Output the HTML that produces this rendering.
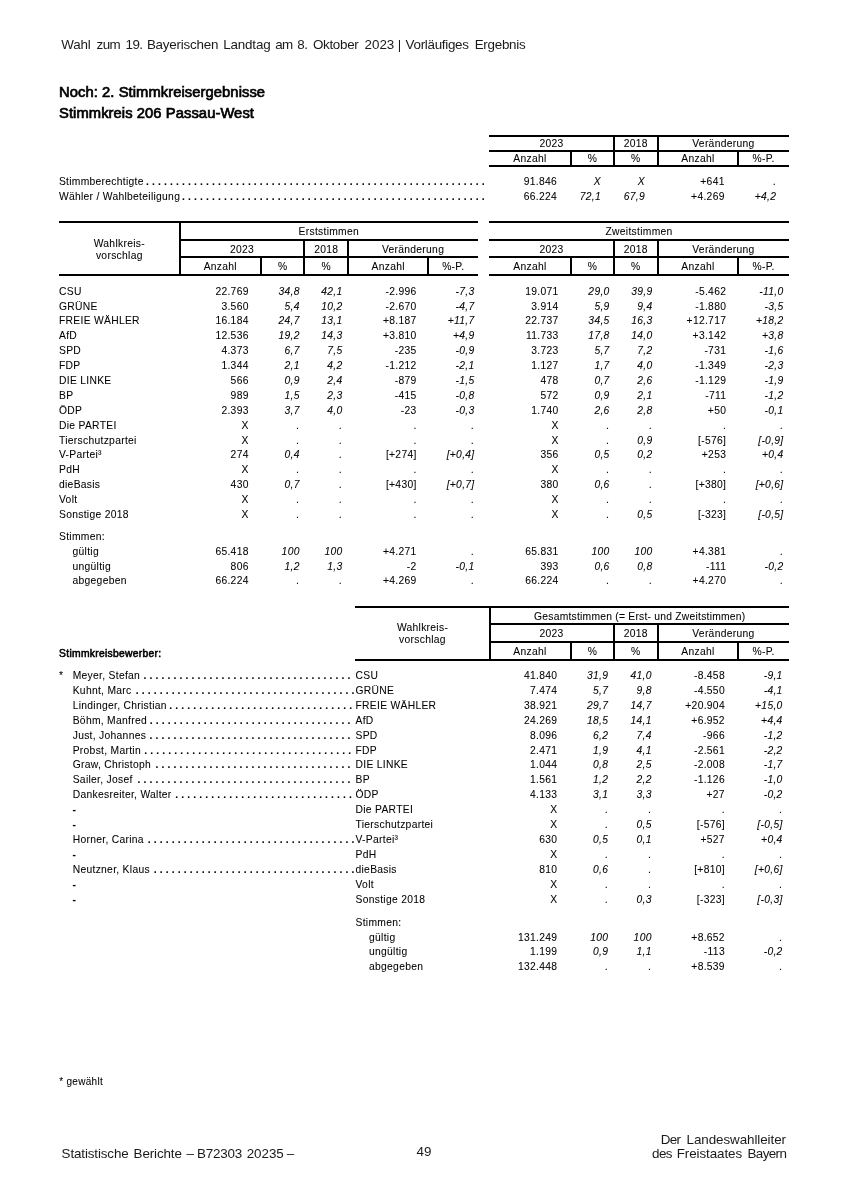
<!DOCTYPE html>
<html lang="de"><head><meta charset="utf-8"><title>Stimmkreis 206 Passau-West</title><style>
html,body{margin:0;padding:0;background:#fff}
body{width:848px;height:1200px;position:relative;overflow:hidden;font-family:"Liberation Sans",sans-serif;color:#000}
.t{position:absolute;white-space:nowrap;line-height:1;font-style:normal;font-weight:normal;letter-spacing:0.3px;-webkit-text-stroke:0.06px #000}
.hd{letter-spacing:0;-webkit-text-stroke:0}
.fb{letter-spacing:0}
.i{font-style:italic}
.b{font-weight:bold}
.fb{-webkit-text-stroke:0.7px #000}
.fb2{-webkit-text-stroke:0.55px #000}
.hd{color:#1a1a1a}
.ln{position:absolute;background:#000;display:block}
.dd{font-weight:bold;letter-spacing:0.137px;white-space:pre}
</style></head><body>
<span class="t hd" style="top:38.00px;left:61.20px;font-size:13.4px;letter-spacing:-0.133px;white-space:pre">Wahl </span>
<span class="t hd" style="top:38.00px;left:96.60px;font-size:13.4px;letter-spacing:-0.6px;white-space:pre">zum </span>
<span class="t hd" style="top:38.00px;left:125.55px;font-size:13.4px;letter-spacing:-0.6px;white-space:pre">19. </span>
<span class="t hd" style="top:38.00px;left:146.90px;font-size:13.4px;letter-spacing:-0.22px;white-space:pre">Bayerischen </span>
<span class="t hd" style="top:38.00px;left:223.30px;font-size:13.4px;letter-spacing:-0.183px;white-space:pre">Landtag </span>
<span class="t hd" style="top:38.00px;left:275.15px;font-size:13.4px;letter-spacing:-0.6px;white-space:pre">am </span>
<span class="t hd" style="top:38.00px;left:297.30px;font-size:13.4px;letter-spacing:-0.6px;white-space:pre">8. </span>
<span class="t hd" style="top:38.00px;left:312.90px;font-size:13.4px;letter-spacing:-0.283px;white-space:pre">Oktober </span>
<span class="t hd" style="top:38.00px;left:364.60px;font-size:13.4px;letter-spacing:-0.033px;white-space:pre">2023 </span>
<span class="t hd" style="top:38.00px;left:397.85px;font-size:13.4px;letter-spacing:0.0px;white-space:pre">| </span>
<span class="t hd" style="top:38.00px;left:405.60px;font-size:13.4px;letter-spacing:-0.29px;white-space:pre">Vorläufiges </span>
<span class="t hd" style="top:38.00px;left:474.70px;font-size:13.4px;letter-spacing:-0.271px;white-space:pre">Ergebnis </span>
<span class="t fb" style="top:85.00px;font-size:14.75px;letter-spacing:0.07px;left:59.00px;">Noch: 2. Stimmkreisergebnisse</span>
<span class="t fb" style="top:106.00px;font-size:14.75px;letter-spacing:0.07px;left:59.00px;">Stimmkreis 206 Passau-West</span>
<span class="t hd" style="top:1147.00px;left:61.60px;font-size:13.4px;letter-spacing:-0.127px;white-space:pre">Statistische </span>
<span class="t hd" style="top:1147.00px;left:133.60px;font-size:13.4px;letter-spacing:-0.114px;white-space:pre">Berichte </span>
<span class="t hd" style="top:1147.00px;left:186.45px;font-size:13.4px;letter-spacing:0.0px;white-space:pre">– </span>
<span class="t hd" style="top:1147.00px;left:197.00px;font-size:13.4px;letter-spacing:-0.2px;white-space:pre">B72303 </span>
<span class="t hd" style="top:1147.00px;left:246.70px;font-size:13.4px;letter-spacing:-0.05px;white-space:pre">20235 </span>
<span class="t hd" style="top:1147.00px;left:286.75px;font-size:13.4px;letter-spacing:0.0px;white-space:pre">– </span>
<span class="t hd" style="top:1145.00px;font-size:13.4px;left:273.90px;width:300px;text-align:center;">49</span>
<span class="t hd" style="top:1133.00px;left:660.70px;font-size:13.4px;letter-spacing:-0.6px;white-space:pre">Der </span>
<span class="t hd" style="top:1133.00px;left:686.50px;font-size:13.4px;letter-spacing:-0.067px;white-space:pre">Landeswahlleiter </span>
<span class="t hd" style="top:1147.00px;left:652.10px;font-size:13.4px;letter-spacing:-0.6px;white-space:pre">des </span>
<span class="t hd" style="top:1147.00px;left:676.70px;font-size:13.4px;letter-spacing:-0.08px;white-space:pre">Freistaates </span>
<span class="t hd" style="top:1147.00px;left:747.50px;font-size:13.4px;letter-spacing:-0.6px;white-space:pre">Bayern </span>
<span class="t " style="top:1077.00px;font-size:10.0px;left:59.20px;">* gewählt</span>
<i class="ln" style="left:489px;top:135px;width:300px;height:2px"></i>
<i class="ln" style="left:489px;top:150px;width:300px;height:2px"></i>
<i class="ln" style="left:489px;top:165px;width:300px;height:2px"></i>
<i class="ln" style="left:613px;top:135px;width:2px;height:32px"></i>
<i class="ln" style="left:657px;top:135px;width:2px;height:32px"></i>
<i class="ln" style="left:570px;top:150px;width:2px;height:17px"></i>
<i class="ln" style="left:737px;top:150px;width:2px;height:17px"></i>
<span class="t " style="top:139.00px;font-size:10.3px;left:401.48px;width:300px;text-align:center;">2023</span>
<span class="t " style="top:139.00px;font-size:10.3px;left:485.80px;width:300px;text-align:center;">2018</span>
<span class="t " style="top:139.00px;font-size:10.3px;left:573.40px;width:300px;text-align:center;">Veränderung</span>
<span class="t " style="top:154.00px;font-size:10.3px;left:379.98px;width:300px;text-align:center;">Anzahl</span>
<span class="t " style="top:154.00px;font-size:10.3px;left:442.40px;width:300px;text-align:center;">%</span>
<span class="t " style="top:154.00px;font-size:10.3px;left:485.80px;width:300px;text-align:center;">%</span>
<span class="t " style="top:154.00px;font-size:10.3px;left:547.90px;width:300px;text-align:center;">Anzahl</span>
<span class="t " style="top:154.00px;font-size:10.3px;left:613.60px;width:300px;text-align:center;">%-P.</span>
<span class="t " style="top:177.00px;font-size:10.3px;right:291.00px;">91.846</span>
<span class="t i" style="top:177.00px;font-size:10.3px;right:247.00px;">X</span>
<span class="t i" style="top:177.00px;font-size:10.3px;right:203.00px;">X</span>
<span class="t " style="top:177.00px;font-size:10.3px;right:123.30px;">+641</span>
<span class="t i" style="top:177.00px;font-size:10.3px;right:71.70px;">.</span>
<span class="t " style="top:192.00px;font-size:10.3px;right:291.00px;">66.224</span>
<span class="t i" style="top:192.00px;font-size:10.3px;right:247.00px;">72,1</span>
<span class="t i" style="top:192.00px;font-size:10.3px;right:203.00px;">67,9</span>
<span class="t " style="top:192.00px;font-size:10.3px;right:123.30px;">+4.269</span>
<span class="t i" style="top:192.00px;font-size:10.3px;right:71.70px;">+4,2</span>
<i class="ln" style="left:59px;top:221px;width:419px;height:2px"></i>
<i class="ln" style="left:489px;top:221px;width:300px;height:2px"></i>
<i class="ln" style="left:59px;top:274px;width:121px;height:2px"></i>
<i class="ln" style="left:179px;top:221px;width:2px;height:55px"></i>
<span class="t " style="top:239.00px;font-size:10.3px;left:-30.70px;width:300px;text-align:center;">Wahlkreis-</span>
<span class="t " style="top:251.00px;font-size:10.3px;left:-30.70px;width:300px;text-align:center;">vorschlag</span>
<i class="ln" style="left:180px;top:239px;width:298px;height:2px"></i>
<i class="ln" style="left:180px;top:256px;width:298px;height:2px"></i>
<i class="ln" style="left:180px;top:274px;width:298px;height:2px"></i>
<i class="ln" style="left:303px;top:239px;width:2px;height:37px"></i>
<i class="ln" style="left:347px;top:239px;width:2px;height:37px"></i>
<i class="ln" style="left:260px;top:256px;width:2px;height:20px"></i>
<i class="ln" style="left:427px;top:256px;width:2px;height:20px"></i>
<span class="t " style="top:245.00px;font-size:10.3px;left:91.95px;width:300px;text-align:center;">2023</span>
<span class="t " style="top:245.00px;font-size:10.3px;left:176.20px;width:300px;text-align:center;">2018</span>
<span class="t " style="top:245.00px;font-size:10.3px;left:263.05px;width:300px;text-align:center;">Veränderung</span>
<span class="t " style="top:262.00px;font-size:10.3px;left:70.30px;width:300px;text-align:center;">Anzahl</span>
<span class="t " style="top:262.00px;font-size:10.3px;left:132.75px;width:300px;text-align:center;">%</span>
<span class="t " style="top:262.00px;font-size:10.3px;left:176.20px;width:300px;text-align:center;">%</span>
<span class="t " style="top:262.00px;font-size:10.3px;left:238.20px;width:300px;text-align:center;">Anzahl</span>
<span class="t " style="top:262.00px;font-size:10.3px;left:303.25px;width:300px;text-align:center;">%-P.</span>
<span class="t " style="top:227.00px;font-size:10.3px;left:178.80px;width:300px;text-align:center;">Erststimmen</span>
<i class="ln" style="left:489px;top:239px;width:300px;height:2px"></i>
<i class="ln" style="left:489px;top:256px;width:300px;height:2px"></i>
<i class="ln" style="left:489px;top:274px;width:300px;height:2px"></i>
<i class="ln" style="left:613px;top:239px;width:2px;height:37px"></i>
<i class="ln" style="left:657px;top:239px;width:2px;height:37px"></i>
<i class="ln" style="left:570px;top:256px;width:2px;height:20px"></i>
<i class="ln" style="left:737px;top:256px;width:2px;height:20px"></i>
<span class="t " style="top:245.00px;font-size:10.3px;left:401.48px;width:300px;text-align:center;">2023</span>
<span class="t " style="top:245.00px;font-size:10.3px;left:485.80px;width:300px;text-align:center;">2018</span>
<span class="t " style="top:245.00px;font-size:10.3px;left:573.40px;width:300px;text-align:center;">Veränderung</span>
<span class="t " style="top:262.00px;font-size:10.3px;left:379.98px;width:300px;text-align:center;">Anzahl</span>
<span class="t " style="top:262.00px;font-size:10.3px;left:442.40px;width:300px;text-align:center;">%</span>
<span class="t " style="top:262.00px;font-size:10.3px;left:485.80px;width:300px;text-align:center;">%</span>
<span class="t " style="top:262.00px;font-size:10.3px;left:547.90px;width:300px;text-align:center;">Anzahl</span>
<span class="t " style="top:262.00px;font-size:10.3px;left:613.60px;width:300px;text-align:center;">%-P.</span>
<span class="t " style="top:227.00px;font-size:10.3px;left:489.08px;width:300px;text-align:center;">Zweitstimmen</span>
<span class="t " style="top:287.00px;font-size:10.3px;left:59.00px;">CSU</span>
<span class="t " style="top:287.00px;font-size:10.3px;right:599.30px;">22.769</span>
<span class="t i" style="top:287.00px;font-size:10.3px;right:548.30px;">34,8</span>
<span class="t i" style="top:287.00px;font-size:10.3px;right:505.50px;">42,1</span>
<span class="t " style="top:287.00px;font-size:10.3px;right:431.40px;">-2.996</span>
<span class="t i" style="top:287.00px;font-size:10.3px;right:373.50px;">-7,3</span>
<span class="t " style="top:287.00px;font-size:10.3px;right:289.40px;">19.071</span>
<span class="t i" style="top:287.00px;font-size:10.3px;right:238.40px;">29,0</span>
<span class="t i" style="top:287.00px;font-size:10.3px;right:195.50px;">39,9</span>
<span class="t " style="top:287.00px;font-size:10.3px;right:121.80px;">-5.462</span>
<span class="t i" style="top:287.00px;font-size:10.3px;right:64.50px;">-11,0</span>
<span class="t " style="top:302.00px;font-size:10.3px;left:59.00px;">GRÜNE</span>
<span class="t " style="top:302.00px;font-size:10.3px;right:599.30px;">3.560</span>
<span class="t i" style="top:302.00px;font-size:10.3px;right:548.30px;">5,4</span>
<span class="t i" style="top:302.00px;font-size:10.3px;right:505.50px;">10,2</span>
<span class="t " style="top:302.00px;font-size:10.3px;right:431.40px;">-2.670</span>
<span class="t i" style="top:302.00px;font-size:10.3px;right:373.50px;">-4,7</span>
<span class="t " style="top:302.00px;font-size:10.3px;right:289.40px;">3.914</span>
<span class="t i" style="top:302.00px;font-size:10.3px;right:238.40px;">5,9</span>
<span class="t i" style="top:302.00px;font-size:10.3px;right:195.50px;">9,4</span>
<span class="t " style="top:302.00px;font-size:10.3px;right:121.80px;">-1.880</span>
<span class="t i" style="top:302.00px;font-size:10.3px;right:64.50px;">-3,5</span>
<span class="t " style="top:316.00px;font-size:10.3px;left:59.00px;">FREIE WÄHLER</span>
<span class="t " style="top:316.00px;font-size:10.3px;right:599.30px;">16.184</span>
<span class="t i" style="top:316.00px;font-size:10.3px;right:548.30px;">24,7</span>
<span class="t i" style="top:316.00px;font-size:10.3px;right:505.50px;">13,1</span>
<span class="t " style="top:316.00px;font-size:10.3px;right:431.40px;">+8.187</span>
<span class="t i" style="top:316.00px;font-size:10.3px;right:373.50px;">+11,7</span>
<span class="t " style="top:316.00px;font-size:10.3px;right:289.40px;">22.737</span>
<span class="t i" style="top:316.00px;font-size:10.3px;right:238.40px;">34,5</span>
<span class="t i" style="top:316.00px;font-size:10.3px;right:195.50px;">16,3</span>
<span class="t " style="top:316.00px;font-size:10.3px;right:121.80px;">+12.717</span>
<span class="t i" style="top:316.00px;font-size:10.3px;right:64.50px;">+18,2</span>
<span class="t " style="top:331.00px;font-size:10.3px;left:59.00px;">AfD</span>
<span class="t " style="top:331.00px;font-size:10.3px;right:599.30px;">12.536</span>
<span class="t i" style="top:331.00px;font-size:10.3px;right:548.30px;">19,2</span>
<span class="t i" style="top:331.00px;font-size:10.3px;right:505.50px;">14,3</span>
<span class="t " style="top:331.00px;font-size:10.3px;right:431.40px;">+3.810</span>
<span class="t i" style="top:331.00px;font-size:10.3px;right:373.50px;">+4,9</span>
<span class="t " style="top:331.00px;font-size:10.3px;right:289.40px;">11.733</span>
<span class="t i" style="top:331.00px;font-size:10.3px;right:238.40px;">17,8</span>
<span class="t i" style="top:331.00px;font-size:10.3px;right:195.50px;">14,0</span>
<span class="t " style="top:331.00px;font-size:10.3px;right:121.80px;">+3.142</span>
<span class="t i" style="top:331.00px;font-size:10.3px;right:64.50px;">+3,8</span>
<span class="t " style="top:346.00px;font-size:10.3px;left:59.00px;">SPD</span>
<span class="t " style="top:346.00px;font-size:10.3px;right:599.30px;">4.373</span>
<span class="t i" style="top:346.00px;font-size:10.3px;right:548.30px;">6,7</span>
<span class="t i" style="top:346.00px;font-size:10.3px;right:505.50px;">7,5</span>
<span class="t " style="top:346.00px;font-size:10.3px;right:431.40px;">-235</span>
<span class="t i" style="top:346.00px;font-size:10.3px;right:373.50px;">-0,9</span>
<span class="t " style="top:346.00px;font-size:10.3px;right:289.40px;">3.723</span>
<span class="t i" style="top:346.00px;font-size:10.3px;right:238.40px;">5,7</span>
<span class="t i" style="top:346.00px;font-size:10.3px;right:195.50px;">7,2</span>
<span class="t " style="top:346.00px;font-size:10.3px;right:121.80px;">-731</span>
<span class="t i" style="top:346.00px;font-size:10.3px;right:64.50px;">-1,6</span>
<span class="t " style="top:361.00px;font-size:10.3px;left:59.00px;">FDP</span>
<span class="t " style="top:361.00px;font-size:10.3px;right:599.30px;">1.344</span>
<span class="t i" style="top:361.00px;font-size:10.3px;right:548.30px;">2,1</span>
<span class="t i" style="top:361.00px;font-size:10.3px;right:505.50px;">4,2</span>
<span class="t " style="top:361.00px;font-size:10.3px;right:431.40px;">-1.212</span>
<span class="t i" style="top:361.00px;font-size:10.3px;right:373.50px;">-2,1</span>
<span class="t " style="top:361.00px;font-size:10.3px;right:289.40px;">1.127</span>
<span class="t i" style="top:361.00px;font-size:10.3px;right:238.40px;">1,7</span>
<span class="t i" style="top:361.00px;font-size:10.3px;right:195.50px;">4,0</span>
<span class="t " style="top:361.00px;font-size:10.3px;right:121.80px;">-1.349</span>
<span class="t i" style="top:361.00px;font-size:10.3px;right:64.50px;">-2,3</span>
<span class="t " style="top:376.00px;font-size:10.3px;left:59.00px;">DIE LINKE</span>
<span class="t " style="top:376.00px;font-size:10.3px;right:599.30px;">566</span>
<span class="t i" style="top:376.00px;font-size:10.3px;right:548.30px;">0,9</span>
<span class="t i" style="top:376.00px;font-size:10.3px;right:505.50px;">2,4</span>
<span class="t " style="top:376.00px;font-size:10.3px;right:431.40px;">-879</span>
<span class="t i" style="top:376.00px;font-size:10.3px;right:373.50px;">-1,5</span>
<span class="t " style="top:376.00px;font-size:10.3px;right:289.40px;">478</span>
<span class="t i" style="top:376.00px;font-size:10.3px;right:238.40px;">0,7</span>
<span class="t i" style="top:376.00px;font-size:10.3px;right:195.50px;">2,6</span>
<span class="t " style="top:376.00px;font-size:10.3px;right:121.80px;">-1.129</span>
<span class="t i" style="top:376.00px;font-size:10.3px;right:64.50px;">-1,9</span>
<span class="t " style="top:391.00px;font-size:10.3px;left:59.00px;">BP</span>
<span class="t " style="top:391.00px;font-size:10.3px;right:599.30px;">989</span>
<span class="t i" style="top:391.00px;font-size:10.3px;right:548.30px;">1,5</span>
<span class="t i" style="top:391.00px;font-size:10.3px;right:505.50px;">2,3</span>
<span class="t " style="top:391.00px;font-size:10.3px;right:431.40px;">-415</span>
<span class="t i" style="top:391.00px;font-size:10.3px;right:373.50px;">-0,8</span>
<span class="t " style="top:391.00px;font-size:10.3px;right:289.40px;">572</span>
<span class="t i" style="top:391.00px;font-size:10.3px;right:238.40px;">0,9</span>
<span class="t i" style="top:391.00px;font-size:10.3px;right:195.50px;">2,1</span>
<span class="t " style="top:391.00px;font-size:10.3px;right:121.80px;">-711</span>
<span class="t i" style="top:391.00px;font-size:10.3px;right:64.50px;">-1,2</span>
<span class="t " style="top:406.00px;font-size:10.3px;left:59.00px;">ÖDP</span>
<span class="t " style="top:406.00px;font-size:10.3px;right:599.30px;">2.393</span>
<span class="t i" style="top:406.00px;font-size:10.3px;right:548.30px;">3,7</span>
<span class="t i" style="top:406.00px;font-size:10.3px;right:505.50px;">4,0</span>
<span class="t " style="top:406.00px;font-size:10.3px;right:431.40px;">-23</span>
<span class="t i" style="top:406.00px;font-size:10.3px;right:373.50px;">-0,3</span>
<span class="t " style="top:406.00px;font-size:10.3px;right:289.40px;">1.740</span>
<span class="t i" style="top:406.00px;font-size:10.3px;right:238.40px;">2,6</span>
<span class="t i" style="top:406.00px;font-size:10.3px;right:195.50px;">2,8</span>
<span class="t " style="top:406.00px;font-size:10.3px;right:121.80px;">+50</span>
<span class="t i" style="top:406.00px;font-size:10.3px;right:64.50px;">-0,1</span>
<span class="t " style="top:421.00px;font-size:10.3px;left:59.00px;">Die PARTEI</span>
<span class="t " style="top:421.00px;font-size:10.3px;right:599.30px;">X</span>
<span class="t i" style="top:421.00px;font-size:10.3px;right:548.30px;">.</span>
<span class="t i" style="top:421.00px;font-size:10.3px;right:505.50px;">.</span>
<span class="t " style="top:421.00px;font-size:10.3px;right:431.40px;">.</span>
<span class="t i" style="top:421.00px;font-size:10.3px;right:373.50px;">.</span>
<span class="t " style="top:421.00px;font-size:10.3px;right:289.40px;">X</span>
<span class="t i" style="top:421.00px;font-size:10.3px;right:238.40px;">.</span>
<span class="t i" style="top:421.00px;font-size:10.3px;right:195.50px;">.</span>
<span class="t " style="top:421.00px;font-size:10.3px;right:121.80px;">.</span>
<span class="t i" style="top:421.00px;font-size:10.3px;right:64.50px;">.</span>
<span class="t " style="top:436.00px;font-size:10.3px;left:59.00px;">Tierschutzpartei</span>
<span class="t " style="top:436.00px;font-size:10.3px;right:599.30px;">X</span>
<span class="t i" style="top:436.00px;font-size:10.3px;right:548.30px;">.</span>
<span class="t i" style="top:436.00px;font-size:10.3px;right:505.50px;">.</span>
<span class="t " style="top:436.00px;font-size:10.3px;right:431.40px;">.</span>
<span class="t i" style="top:436.00px;font-size:10.3px;right:373.50px;">.</span>
<span class="t " style="top:436.00px;font-size:10.3px;right:289.40px;">X</span>
<span class="t i" style="top:436.00px;font-size:10.3px;right:238.40px;">.</span>
<span class="t i" style="top:436.00px;font-size:10.3px;right:195.50px;">0,9</span>
<span class="t " style="top:436.00px;font-size:10.3px;right:121.80px;">[-576]</span>
<span class="t i" style="top:436.00px;font-size:10.3px;right:64.50px;">[-0,9]</span>
<span class="t " style="top:450.00px;font-size:10.3px;left:59.00px;">V-Partei³</span>
<span class="t " style="top:450.00px;font-size:10.3px;right:599.30px;">274</span>
<span class="t i" style="top:450.00px;font-size:10.3px;right:548.30px;">0,4</span>
<span class="t i" style="top:450.00px;font-size:10.3px;right:505.50px;">.</span>
<span class="t " style="top:450.00px;font-size:10.3px;right:431.40px;">[+274]</span>
<span class="t i" style="top:450.00px;font-size:10.3px;right:373.50px;">[+0,4]</span>
<span class="t " style="top:450.00px;font-size:10.3px;right:289.40px;">356</span>
<span class="t i" style="top:450.00px;font-size:10.3px;right:238.40px;">0,5</span>
<span class="t i" style="top:450.00px;font-size:10.3px;right:195.50px;">0,2</span>
<span class="t " style="top:450.00px;font-size:10.3px;right:121.80px;">+253</span>
<span class="t i" style="top:450.00px;font-size:10.3px;right:64.50px;">+0,4</span>
<span class="t " style="top:465.00px;font-size:10.3px;left:59.00px;">PdH</span>
<span class="t " style="top:465.00px;font-size:10.3px;right:599.30px;">X</span>
<span class="t i" style="top:465.00px;font-size:10.3px;right:548.30px;">.</span>
<span class="t i" style="top:465.00px;font-size:10.3px;right:505.50px;">.</span>
<span class="t " style="top:465.00px;font-size:10.3px;right:431.40px;">.</span>
<span class="t i" style="top:465.00px;font-size:10.3px;right:373.50px;">.</span>
<span class="t " style="top:465.00px;font-size:10.3px;right:289.40px;">X</span>
<span class="t i" style="top:465.00px;font-size:10.3px;right:238.40px;">.</span>
<span class="t i" style="top:465.00px;font-size:10.3px;right:195.50px;">.</span>
<span class="t " style="top:465.00px;font-size:10.3px;right:121.80px;">.</span>
<span class="t i" style="top:465.00px;font-size:10.3px;right:64.50px;">.</span>
<span class="t " style="top:480.00px;font-size:10.3px;left:59.00px;">dieBasis</span>
<span class="t " style="top:480.00px;font-size:10.3px;right:599.30px;">430</span>
<span class="t i" style="top:480.00px;font-size:10.3px;right:548.30px;">0,7</span>
<span class="t i" style="top:480.00px;font-size:10.3px;right:505.50px;">.</span>
<span class="t " style="top:480.00px;font-size:10.3px;right:431.40px;">[+430]</span>
<span class="t i" style="top:480.00px;font-size:10.3px;right:373.50px;">[+0,7]</span>
<span class="t " style="top:480.00px;font-size:10.3px;right:289.40px;">380</span>
<span class="t i" style="top:480.00px;font-size:10.3px;right:238.40px;">0,6</span>
<span class="t i" style="top:480.00px;font-size:10.3px;right:195.50px;">.</span>
<span class="t " style="top:480.00px;font-size:10.3px;right:121.80px;">[+380]</span>
<span class="t i" style="top:480.00px;font-size:10.3px;right:64.50px;">[+0,6]</span>
<span class="t " style="top:495.00px;font-size:10.3px;left:59.00px;">Volt</span>
<span class="t " style="top:495.00px;font-size:10.3px;right:599.30px;">X</span>
<span class="t i" style="top:495.00px;font-size:10.3px;right:548.30px;">.</span>
<span class="t i" style="top:495.00px;font-size:10.3px;right:505.50px;">.</span>
<span class="t " style="top:495.00px;font-size:10.3px;right:431.40px;">.</span>
<span class="t i" style="top:495.00px;font-size:10.3px;right:373.50px;">.</span>
<span class="t " style="top:495.00px;font-size:10.3px;right:289.40px;">X</span>
<span class="t i" style="top:495.00px;font-size:10.3px;right:238.40px;">.</span>
<span class="t i" style="top:495.00px;font-size:10.3px;right:195.50px;">.</span>
<span class="t " style="top:495.00px;font-size:10.3px;right:121.80px;">.</span>
<span class="t i" style="top:495.00px;font-size:10.3px;right:64.50px;">.</span>
<span class="t " style="top:510.00px;font-size:10.3px;left:59.00px;">Sonstige 2018</span>
<span class="t " style="top:510.00px;font-size:10.3px;right:599.30px;">X</span>
<span class="t i" style="top:510.00px;font-size:10.3px;right:548.30px;">.</span>
<span class="t i" style="top:510.00px;font-size:10.3px;right:505.50px;">.</span>
<span class="t " style="top:510.00px;font-size:10.3px;right:431.40px;">.</span>
<span class="t i" style="top:510.00px;font-size:10.3px;right:373.50px;">.</span>
<span class="t " style="top:510.00px;font-size:10.3px;right:289.40px;">X</span>
<span class="t i" style="top:510.00px;font-size:10.3px;right:238.40px;">.</span>
<span class="t i" style="top:510.00px;font-size:10.3px;right:195.50px;">0,5</span>
<span class="t " style="top:510.00px;font-size:10.3px;right:121.80px;">[-323]</span>
<span class="t i" style="top:510.00px;font-size:10.3px;right:64.50px;">[-0,5]</span>
<span class="t " style="top:532.00px;font-size:10.3px;left:59.00px;">Stimmen:</span>
<span class="t " style="top:547.00px;font-size:10.3px;left:72.50px;">gültig</span>
<span class="t " style="top:547.00px;font-size:10.3px;right:599.30px;">65.418</span>
<span class="t i" style="top:547.00px;font-size:10.3px;right:548.30px;">100</span>
<span class="t i" style="top:547.00px;font-size:10.3px;right:505.50px;">100</span>
<span class="t " style="top:547.00px;font-size:10.3px;right:431.40px;">+4.271</span>
<span class="t i" style="top:547.00px;font-size:10.3px;right:373.50px;">.</span>
<span class="t " style="top:547.00px;font-size:10.3px;right:289.40px;">65.831</span>
<span class="t i" style="top:547.00px;font-size:10.3px;right:238.40px;">100</span>
<span class="t i" style="top:547.00px;font-size:10.3px;right:195.50px;">100</span>
<span class="t " style="top:547.00px;font-size:10.3px;right:121.80px;">+4.381</span>
<span class="t i" style="top:547.00px;font-size:10.3px;right:64.50px;">.</span>
<span class="t " style="top:562.00px;font-size:10.3px;left:72.50px;">ungültig</span>
<span class="t " style="top:562.00px;font-size:10.3px;right:599.30px;">806</span>
<span class="t i" style="top:562.00px;font-size:10.3px;right:548.30px;">1,2</span>
<span class="t i" style="top:562.00px;font-size:10.3px;right:505.50px;">1,3</span>
<span class="t " style="top:562.00px;font-size:10.3px;right:431.40px;">-2</span>
<span class="t i" style="top:562.00px;font-size:10.3px;right:373.50px;">-0,1</span>
<span class="t " style="top:562.00px;font-size:10.3px;right:289.40px;">393</span>
<span class="t i" style="top:562.00px;font-size:10.3px;right:238.40px;">0,6</span>
<span class="t i" style="top:562.00px;font-size:10.3px;right:195.50px;">0,8</span>
<span class="t " style="top:562.00px;font-size:10.3px;right:121.80px;">-111</span>
<span class="t i" style="top:562.00px;font-size:10.3px;right:64.50px;">-0,2</span>
<span class="t " style="top:576.00px;font-size:10.3px;left:72.50px;">abgegeben</span>
<span class="t " style="top:576.00px;font-size:10.3px;right:599.30px;">66.224</span>
<span class="t i" style="top:576.00px;font-size:10.3px;right:548.30px;">.</span>
<span class="t i" style="top:576.00px;font-size:10.3px;right:505.50px;">.</span>
<span class="t " style="top:576.00px;font-size:10.3px;right:431.40px;">+4.269</span>
<span class="t i" style="top:576.00px;font-size:10.3px;right:373.50px;">.</span>
<span class="t " style="top:576.00px;font-size:10.3px;right:289.40px;">66.224</span>
<span class="t i" style="top:576.00px;font-size:10.3px;right:238.40px;">.</span>
<span class="t i" style="top:576.00px;font-size:10.3px;right:195.50px;">.</span>
<span class="t " style="top:576.00px;font-size:10.3px;right:121.80px;">+4.270</span>
<span class="t i" style="top:576.00px;font-size:10.3px;right:64.50px;">.</span>
<i class="ln" style="left:355px;top:606px;width:434px;height:2px"></i>
<i class="ln" style="left:355px;top:659px;width:135px;height:2px"></i>
<i class="ln" style="left:489px;top:606px;width:2px;height:55px"></i>
<span class="t " style="top:623.00px;font-size:10.3px;left:272.50px;width:300px;text-align:center;">Wahlkreis-</span>
<span class="t " style="top:635.00px;font-size:10.3px;left:272.50px;width:300px;text-align:center;">vorschlag</span>
<i class="ln" style="left:489px;top:623px;width:300px;height:2px"></i>
<i class="ln" style="left:489px;top:641px;width:300px;height:2px"></i>
<i class="ln" style="left:489px;top:659px;width:300px;height:2px"></i>
<i class="ln" style="left:613px;top:623px;width:2px;height:38px"></i>
<i class="ln" style="left:657px;top:623px;width:2px;height:38px"></i>
<i class="ln" style="left:570px;top:641px;width:2px;height:20px"></i>
<i class="ln" style="left:737px;top:641px;width:2px;height:20px"></i>
<span class="t " style="top:629.00px;font-size:10.3px;left:401.48px;width:300px;text-align:center;">2023</span>
<span class="t " style="top:629.00px;font-size:10.3px;left:485.80px;width:300px;text-align:center;">2018</span>
<span class="t " style="top:629.00px;font-size:10.3px;left:573.40px;width:300px;text-align:center;">Veränderung</span>
<span class="t " style="top:647.00px;font-size:10.3px;left:379.98px;width:300px;text-align:center;">Anzahl</span>
<span class="t " style="top:647.00px;font-size:10.3px;left:442.40px;width:300px;text-align:center;">%</span>
<span class="t " style="top:647.00px;font-size:10.3px;left:485.80px;width:300px;text-align:center;">%</span>
<span class="t " style="top:647.00px;font-size:10.3px;left:547.90px;width:300px;text-align:center;">Anzahl</span>
<span class="t " style="top:647.00px;font-size:10.3px;left:613.60px;width:300px;text-align:center;">%-P.</span>
<span class="t " style="top:612.00px;font-size:10.3px;letter-spacing:0.24px;left:489.78px;width:300px;text-align:center;">Gesamtstimmen (= Erst- und Zweitstimmen)</span>
<span class="t fb2" style="top:649.00px;font-size:10.3px;left:59.10px;">Stimmkreisbewerber:</span>
<span class="t " style="top:671.00px;font-size:10.3px;left:355.50px;">CSU</span>
<span class="t " style="top:671.00px;font-size:10.3px;right:290.70px;">41.840</span>
<span class="t i" style="top:671.00px;font-size:10.3px;right:239.70px;">31,9</span>
<span class="t i" style="top:671.00px;font-size:10.3px;right:196.30px;">41,0</span>
<span class="t " style="top:671.00px;font-size:10.3px;right:123.10px;">-8.458</span>
<span class="t i" style="top:671.00px;font-size:10.3px;right:65.40px;">-9,1</span>
<span class="t " style="top:686.00px;font-size:10.3px;left:355.50px;">GRÜNE</span>
<span class="t " style="top:686.00px;font-size:10.3px;right:290.70px;">7.474</span>
<span class="t i" style="top:686.00px;font-size:10.3px;right:239.70px;">5,7</span>
<span class="t i" style="top:686.00px;font-size:10.3px;right:196.30px;">9,8</span>
<span class="t " style="top:686.00px;font-size:10.3px;right:123.10px;">-4.550</span>
<span class="t i" style="top:686.00px;font-size:10.3px;right:65.40px;">-4,1</span>
<span class="t " style="top:701.00px;font-size:10.3px;left:355.50px;">FREIE WÄHLER</span>
<span class="t " style="top:701.00px;font-size:10.3px;right:290.70px;">38.921</span>
<span class="t i" style="top:701.00px;font-size:10.3px;right:239.70px;">29,7</span>
<span class="t i" style="top:701.00px;font-size:10.3px;right:196.30px;">14,7</span>
<span class="t " style="top:701.00px;font-size:10.3px;right:123.10px;">+20.904</span>
<span class="t i" style="top:701.00px;font-size:10.3px;right:65.40px;">+15,0</span>
<span class="t " style="top:716.00px;font-size:10.3px;left:355.50px;">AfD</span>
<span class="t " style="top:716.00px;font-size:10.3px;right:290.70px;">24.269</span>
<span class="t i" style="top:716.00px;font-size:10.3px;right:239.70px;">18,5</span>
<span class="t i" style="top:716.00px;font-size:10.3px;right:196.30px;">14,1</span>
<span class="t " style="top:716.00px;font-size:10.3px;right:123.10px;">+6.952</span>
<span class="t i" style="top:716.00px;font-size:10.3px;right:65.40px;">+4,4</span>
<span class="t " style="top:731.00px;font-size:10.3px;left:355.50px;">SPD</span>
<span class="t " style="top:731.00px;font-size:10.3px;right:290.70px;">8.096</span>
<span class="t i" style="top:731.00px;font-size:10.3px;right:239.70px;">6,2</span>
<span class="t i" style="top:731.00px;font-size:10.3px;right:196.30px;">7,4</span>
<span class="t " style="top:731.00px;font-size:10.3px;right:123.10px;">-966</span>
<span class="t i" style="top:731.00px;font-size:10.3px;right:65.40px;">-1,2</span>
<span class="t " style="top:746.00px;font-size:10.3px;left:355.50px;">FDP</span>
<span class="t " style="top:746.00px;font-size:10.3px;right:290.70px;">2.471</span>
<span class="t i" style="top:746.00px;font-size:10.3px;right:239.70px;">1,9</span>
<span class="t i" style="top:746.00px;font-size:10.3px;right:196.30px;">4,1</span>
<span class="t " style="top:746.00px;font-size:10.3px;right:123.10px;">-2.561</span>
<span class="t i" style="top:746.00px;font-size:10.3px;right:65.40px;">-2,2</span>
<span class="t " style="top:760.00px;font-size:10.3px;left:355.50px;">DIE LINKE</span>
<span class="t " style="top:760.00px;font-size:10.3px;right:290.70px;">1.044</span>
<span class="t i" style="top:760.00px;font-size:10.3px;right:239.70px;">0,8</span>
<span class="t i" style="top:760.00px;font-size:10.3px;right:196.30px;">2,5</span>
<span class="t " style="top:760.00px;font-size:10.3px;right:123.10px;">-2.008</span>
<span class="t i" style="top:760.00px;font-size:10.3px;right:65.40px;">-1,7</span>
<span class="t " style="top:775.00px;font-size:10.3px;left:355.50px;">BP</span>
<span class="t " style="top:775.00px;font-size:10.3px;right:290.70px;">1.561</span>
<span class="t i" style="top:775.00px;font-size:10.3px;right:239.70px;">1,2</span>
<span class="t i" style="top:775.00px;font-size:10.3px;right:196.30px;">2,2</span>
<span class="t " style="top:775.00px;font-size:10.3px;right:123.10px;">-1.126</span>
<span class="t i" style="top:775.00px;font-size:10.3px;right:65.40px;">-1,0</span>
<span class="t " style="top:790.00px;font-size:10.3px;left:355.50px;">ÖDP</span>
<span class="t " style="top:790.00px;font-size:10.3px;right:290.70px;">4.133</span>
<span class="t i" style="top:790.00px;font-size:10.3px;right:239.70px;">3,1</span>
<span class="t i" style="top:790.00px;font-size:10.3px;right:196.30px;">3,3</span>
<span class="t " style="top:790.00px;font-size:10.3px;right:123.10px;">+27</span>
<span class="t i" style="top:790.00px;font-size:10.3px;right:65.40px;">-0,2</span>
<span class="t b" style="top:805.00px;font-size:10.3px;left:72.60px;">-</span>
<span class="t " style="top:805.00px;font-size:10.3px;left:355.50px;">Die PARTEI</span>
<span class="t " style="top:805.00px;font-size:10.3px;right:290.70px;">X</span>
<span class="t i" style="top:805.00px;font-size:10.3px;right:239.70px;">.</span>
<span class="t i" style="top:805.00px;font-size:10.3px;right:196.30px;">.</span>
<span class="t " style="top:805.00px;font-size:10.3px;right:123.10px;">.</span>
<span class="t i" style="top:805.00px;font-size:10.3px;right:65.40px;">.</span>
<span class="t b" style="top:820.00px;font-size:10.3px;left:72.60px;">-</span>
<span class="t " style="top:820.00px;font-size:10.3px;left:355.50px;">Tierschutzpartei</span>
<span class="t " style="top:820.00px;font-size:10.3px;right:290.70px;">X</span>
<span class="t i" style="top:820.00px;font-size:10.3px;right:239.70px;">.</span>
<span class="t i" style="top:820.00px;font-size:10.3px;right:196.30px;">0,5</span>
<span class="t " style="top:820.00px;font-size:10.3px;right:123.10px;">[-576]</span>
<span class="t i" style="top:820.00px;font-size:10.3px;right:65.40px;">[-0,5]</span>
<span class="t " style="top:835.00px;font-size:10.3px;left:355.50px;">V-Partei³</span>
<span class="t " style="top:835.00px;font-size:10.3px;right:290.70px;">630</span>
<span class="t i" style="top:835.00px;font-size:10.3px;right:239.70px;">0,5</span>
<span class="t i" style="top:835.00px;font-size:10.3px;right:196.30px;">0,1</span>
<span class="t " style="top:835.00px;font-size:10.3px;right:123.10px;">+527</span>
<span class="t i" style="top:835.00px;font-size:10.3px;right:65.40px;">+0,4</span>
<span class="t b" style="top:850.00px;font-size:10.3px;left:72.60px;">-</span>
<span class="t " style="top:850.00px;font-size:10.3px;left:355.50px;">PdH</span>
<span class="t " style="top:850.00px;font-size:10.3px;right:290.70px;">X</span>
<span class="t i" style="top:850.00px;font-size:10.3px;right:239.70px;">.</span>
<span class="t i" style="top:850.00px;font-size:10.3px;right:196.30px;">.</span>
<span class="t " style="top:850.00px;font-size:10.3px;right:123.10px;">.</span>
<span class="t i" style="top:850.00px;font-size:10.3px;right:65.40px;">.</span>
<span class="t " style="top:865.00px;font-size:10.3px;left:355.50px;">dieBasis</span>
<span class="t " style="top:865.00px;font-size:10.3px;right:290.70px;">810</span>
<span class="t i" style="top:865.00px;font-size:10.3px;right:239.70px;">0,6</span>
<span class="t i" style="top:865.00px;font-size:10.3px;right:196.30px;">.</span>
<span class="t " style="top:865.00px;font-size:10.3px;right:123.10px;">[+810]</span>
<span class="t i" style="top:865.00px;font-size:10.3px;right:65.40px;">[+0,6]</span>
<span class="t b" style="top:880.00px;font-size:10.3px;left:72.60px;">-</span>
<span class="t " style="top:880.00px;font-size:10.3px;left:355.50px;">Volt</span>
<span class="t " style="top:880.00px;font-size:10.3px;right:290.70px;">X</span>
<span class="t i" style="top:880.00px;font-size:10.3px;right:239.70px;">.</span>
<span class="t i" style="top:880.00px;font-size:10.3px;right:196.30px;">.</span>
<span class="t " style="top:880.00px;font-size:10.3px;right:123.10px;">.</span>
<span class="t i" style="top:880.00px;font-size:10.3px;right:65.40px;">.</span>
<span class="t b" style="top:895.00px;font-size:10.3px;left:72.60px;">-</span>
<span class="t " style="top:895.00px;font-size:10.3px;left:355.50px;">Sonstige 2018</span>
<span class="t " style="top:895.00px;font-size:10.3px;right:290.70px;">X</span>
<span class="t i" style="top:895.00px;font-size:10.3px;right:239.70px;">.</span>
<span class="t i" style="top:895.00px;font-size:10.3px;right:196.30px;">0,3</span>
<span class="t " style="top:895.00px;font-size:10.3px;right:123.10px;">[-323]</span>
<span class="t i" style="top:895.00px;font-size:10.3px;right:65.40px;">[-0,3]</span>
<span class="t " style="top:671.00px;font-size:10.3px;left:59.00px;">*</span>
<span class="t " style="top:918.00px;font-size:10.3px;left:355.50px;">Stimmen:</span>
<span class="t " style="top:933.00px;font-size:10.3px;left:369.00px;">gültig</span>
<span class="t " style="top:933.00px;font-size:10.3px;right:290.70px;">131.249</span>
<span class="t i" style="top:933.00px;font-size:10.3px;right:239.70px;">100</span>
<span class="t i" style="top:933.00px;font-size:10.3px;right:196.30px;">100</span>
<span class="t " style="top:933.00px;font-size:10.3px;right:123.10px;">+8.652</span>
<span class="t i" style="top:933.00px;font-size:10.3px;right:65.40px;">.</span>
<span class="t " style="top:947.00px;font-size:10.3px;left:369.00px;">ungültig</span>
<span class="t " style="top:947.00px;font-size:10.3px;right:290.70px;">1.199</span>
<span class="t i" style="top:947.00px;font-size:10.3px;right:239.70px;">0,9</span>
<span class="t i" style="top:947.00px;font-size:10.3px;right:196.30px;">1,1</span>
<span class="t " style="top:947.00px;font-size:10.3px;right:123.10px;">-113</span>
<span class="t i" style="top:947.00px;font-size:10.3px;right:65.40px;">-0,2</span>
<span class="t " style="top:962.00px;font-size:10.3px;left:369.00px;">abgegeben</span>
<span class="t " style="top:962.00px;font-size:10.3px;right:290.70px;">132.448</span>
<span class="t i" style="top:962.00px;font-size:10.3px;right:239.70px;">.</span>
<span class="t i" style="top:962.00px;font-size:10.3px;right:196.30px;">.</span>
<span class="t " style="top:962.00px;font-size:10.3px;right:123.10px;">+8.539</span>
<span class="t i" style="top:962.00px;font-size:10.3px;right:65.40px;">.</span>
<span class="t " style="top:177.00px;font-size:10.3px;left:58.90px;">Stimmberechtigte</span>
<span class="t dd" style="top:177.00px;right:363.30px;font-size:10.3px"> . . . . . . . . . . . . . . . . . . . . . . . . . . . . . . . . . . . . . . . . . . . . . . . . . . . . . . . . .</span>
<span class="t " style="top:192.00px;font-size:10.3px;left:58.90px;">Wähler / Wahlbeteiligung</span>
<span class="t dd" style="top:192.00px;right:363.30px;font-size:10.3px"> . . . . . . . . . . . . . . . . . . . . . . . . . . . . . . . . . . . . . . . . . . . . . . . . . . .</span>
<span class="t " style="top:671.00px;font-size:10.3px;left:72.70px;">Meyer, Stefan</span>
<span class="t dd" style="top:671.00px;right:497.60px;font-size:10.3px"> . . . . . . . . . . . . . . . . . . . . . . . . . . . . . . . . . . .</span>
<span class="t " style="top:686.00px;font-size:10.3px;left:72.70px;">Kuhnt, Marc</span>
<span class="t dd" style="top:686.00px;right:493.50px;font-size:10.3px"> . . . . . . . . . . . . . . . . . . . . . . . . . . . . . . . . . . . . .</span>
<span class="t " style="top:701.00px;font-size:10.3px;left:72.70px;">Lindinger, Christian</span>
<span class="t dd" style="top:701.00px;right:495.80px;font-size:10.3px"> . . . . . . . . . . . . . . . . . . . . . . . . . . . . . . .</span>
<span class="t " style="top:716.00px;font-size:10.3px;left:72.70px;">Böhm, Manfred</span>
<span class="t dd" style="top:716.00px;right:497.40px;font-size:10.3px"> . . . . . . . . . . . . . . . . . . . . . . . . . . . . . . . . . .</span>
<span class="t " style="top:731.00px;font-size:10.3px;left:72.70px;">Just, Johannes</span>
<span class="t dd" style="top:731.00px;right:497.60px;font-size:10.3px"> . . . . . . . . . . . . . . . . . . . . . . . . . . . . . . . . . .</span>
<span class="t " style="top:746.00px;font-size:10.3px;left:72.70px;">Probst, Martin</span>
<span class="t dd" style="top:746.00px;right:496.80px;font-size:10.3px"> . . . . . . . . . . . . . . . . . . . . . . . . . . . . . . . . . . .</span>
<span class="t " style="top:760.00px;font-size:10.3px;left:72.70px;">Graw, Christoph</span>
<span class="t dd" style="top:760.00px;right:497.60px;font-size:10.3px"> . . . . . . . . . . . . . . . . . . . . . . . . . . . . . . . . .</span>
<span class="t " style="top:775.00px;font-size:10.3px;left:72.70px;">Sailer, Josef</span>
<span class="t dd" style="top:775.00px;right:497.60px;font-size:10.3px"> . . . . . . . . . . . . . . . . . . . . . . . . . . . . . . . . . . . .</span>
<span class="t " style="top:790.00px;font-size:10.3px;left:72.70px;">Dankesreiter, Walter</span>
<span class="t dd" style="top:790.00px;right:495.90px;font-size:10.3px"> . . . . . . . . . . . . . . . . . . . . . . . . . . . . . .</span>
<span class="t " style="top:835.00px;font-size:10.3px;left:72.70px;">Horner, Carina</span>
<span class="t dd" style="top:835.00px;right:493.40px;font-size:10.3px"> . . . . . . . . . . . . . . . . . . . . . . . . . . . . . . . . . . .</span>
<span class="t " style="top:865.00px;font-size:10.3px;left:72.70px;">Neutzner, Klaus</span>
<span class="t dd" style="top:865.00px;right:493.40px;font-size:10.3px"> . . . . . . . . . . . . . . . . . . . . . . . . . . . . . . . . . .</span>
</body></html>
